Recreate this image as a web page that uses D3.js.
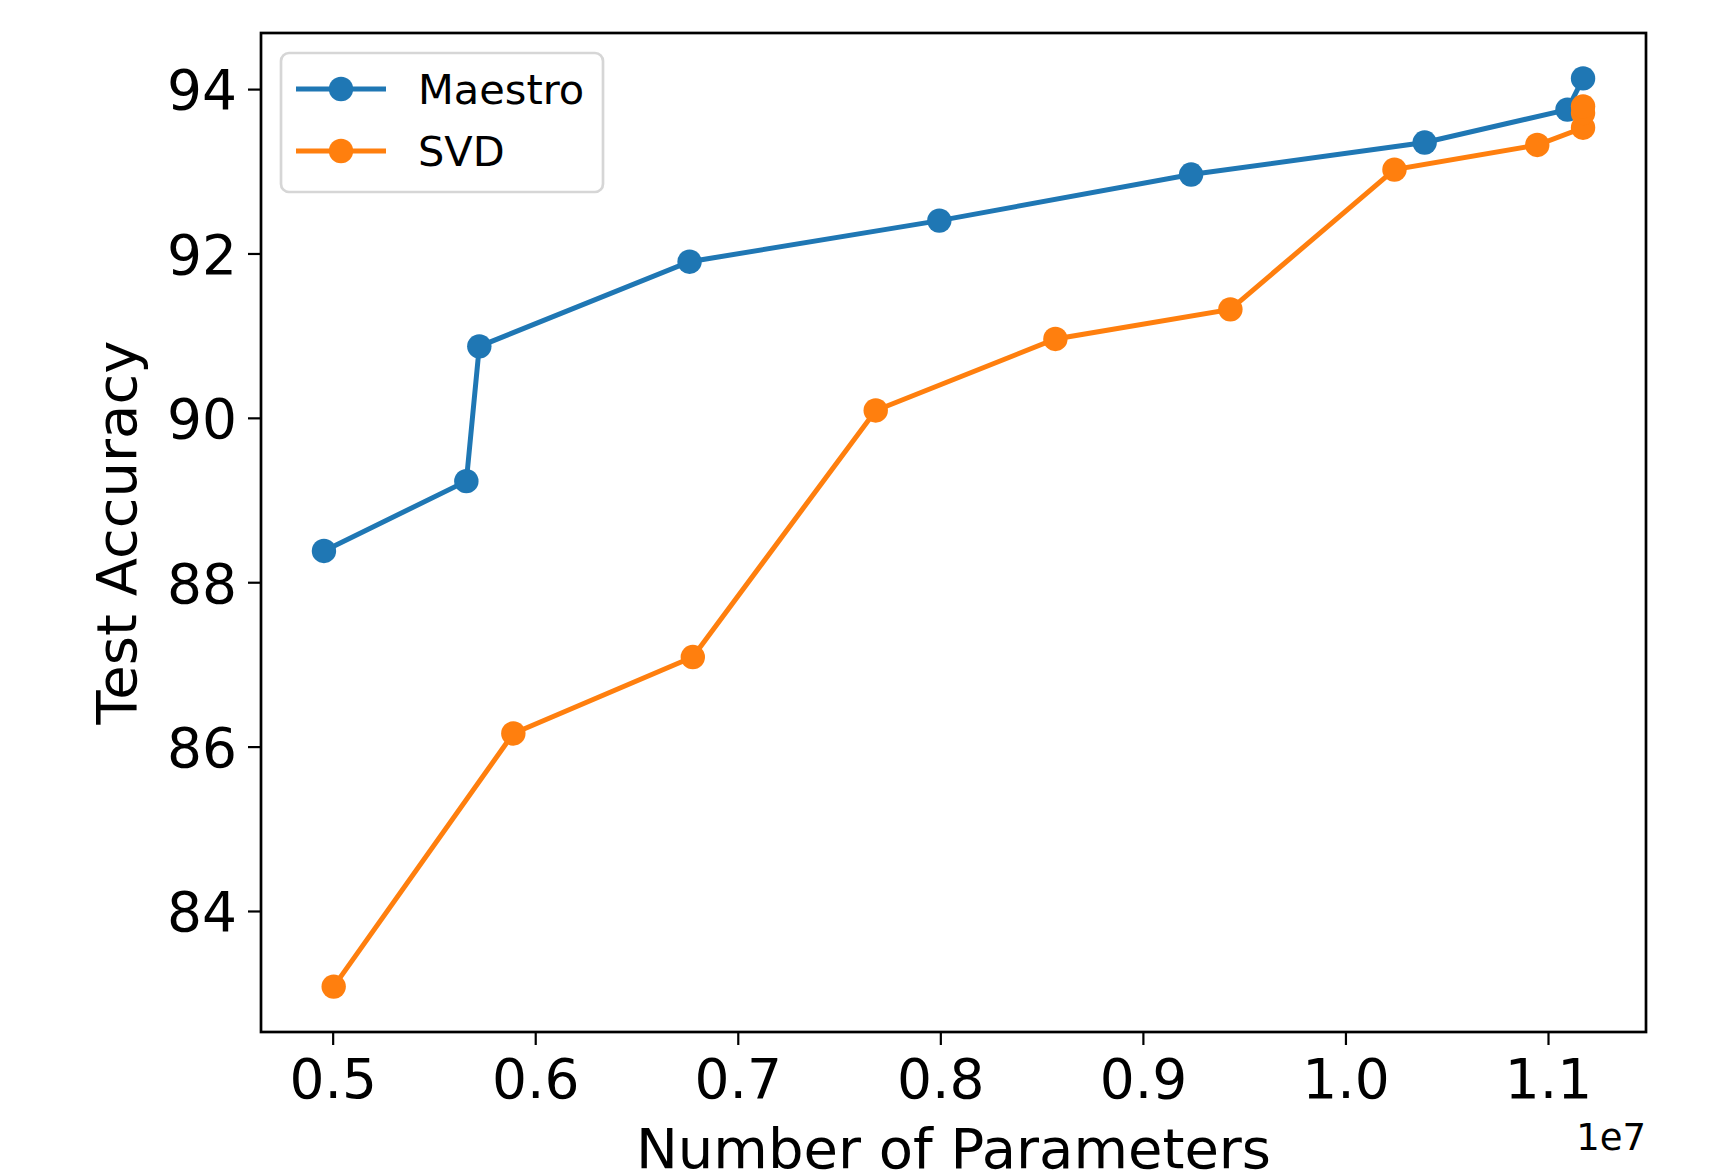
<!DOCTYPE html>
<html>
<head>
<meta charset="utf-8">
<script src="https://cdn.jsdelivr.net/npm/d3@7"></script>
<style>
  body { margin: 0; background: #fff; }
  svg text { font-family: "DejaVu Sans", sans-serif; fill: #000; }
</style>
</head>
<body>
<div id="chart"></div>
<script>
/** data, x in units of 1e7 parameters **/
var maestroParams = [0.4957, 0.566, 0.5724, 0.6762, 0.7995, 0.9238, 1.0391, 1.1096, 1.1173];
var maestroAcc    = [88.38, 89.23, 90.87, 91.90, 92.40, 92.96, 93.35, 93.75, 94.13];
var svdParams = [0.5005, 0.5892, 0.6778, 0.7681, 0.8568, 0.9432, 1.0242, 1.0947, 1.1173, 1.1173, 1.1173];
var svdAcc    = [83.08, 86.16, 87.09, 90.09, 90.96, 91.32, 93.02, 93.32, 93.53, 93.71, 93.79];
var seriesNames = ["Maestro", "SVD"];
var seriesColors = ["#1f77b4", "#ff7f0e"];
var xTicks = [0.5, 0.6, 0.7, 0.8, 0.9, 1.0, 1.1];
var yTicks = [84, 86, 88, 90, 92, 94];

/** layout **/
var svgWidth = 1717,
    svgHeight = 1175,
    plotLeft = 261,
    plotRight = 1646,
    plotTop = 33,
    plotBottom = 1032;

var svg = d3.select("#chart").append("svg")
    .attr("width", svgWidth)
    .attr("height", svgHeight);

// matplotlib style 5% margins around the data
function padded(vals) {
    var lo = d3.min(vals), hi = d3.max(vals), m = (hi - lo) * 0.05;
    return [lo - m, hi + m];
}

var x = d3.scaleLinear()
    .domain(padded(maestroParams.concat(svdParams)))
    .range([plotLeft, plotRight]);

var y = d3.scaleLinear()
    .domain(padded(maestroAcc.concat(svdAcc)))
    .range([plotBottom, plotTop]);

var series = [
    { name: seriesNames[0], color: seriesColors[0],
      pts: maestroParams.map(function(d, i) { return [d, maestroAcc[i]]; }) },
    { name: seriesNames[1], color: seriesColors[1],
      pts: svdParams.map(function(d, i) { return [d, svdAcc[i]]; }) }
];

// axes
var xAxis = svg.append("g")
    .attr("transform", "translate(0," + plotBottom + ")")
    .call(d3.axisBottom(x).tickValues(xTicks).tickFormat(d3.format(".1f"))
        .tickSize(13).tickPadding(14));

var yAxis = svg.append("g")
    .attr("transform", "translate(" + plotLeft + ",0)")
    .call(d3.axisLeft(y).tickValues(yTicks).tickFormat(d3.format("d"))
        .tickSize(13).tickPadding(11));

[xAxis, yAxis].forEach(function(g) {
    g.select(".domain").remove();
    g.selectAll(".tick line").attr("stroke", "#000").attr("stroke-width", 2.2);
    g.selectAll(".tick text").style("font-size", "55px").attr("fill", "#000");
});
xAxis.selectAll(".tick text").attr("dy", "0.71em");
yAxis.selectAll(".tick text").attr("dy", "0.36em");

// lines and markers
var line = d3.line()
    .x(function(d) { return x(d[0]); })
    .y(function(d) { return y(d[1]); });

series.forEach(function(s) {
    svg.append("path")
        .datum(s.pts)
        .attr("d", line)
        .attr("fill", "none")
        .attr("stroke", s.color)
        .attr("stroke-width", 5);

    svg.selectAll(".pt-" + s.name)
        .data(s.pts)
        .enter().append("circle")
        .attr("class", "pt-" + s.name)
        .attr("cx", function(d) { return x(d[0]); })
        .attr("cy", function(d) { return y(d[1]); })
        .attr("r", 12.2)
        .attr("fill", s.color);
});

// frame
svg.append("rect")
    .attr("x", plotLeft)
    .attr("y", plotTop)
    .attr("width", plotRight - plotLeft)
    .attr("height", plotBottom - plotTop)
    .attr("fill", "none")
    .attr("stroke", "#000")
    .attr("stroke-width", 2.7);

// labels
svg.append("text")
    .attr("x", (plotLeft + plotRight) / 2)
    .attr("y", 1168)
    .attr("text-anchor", "middle")
    .style("font-size", "56px")
    .text("Number of Parameters");

svg.append("text")
    .attr("transform", "translate(136," + (plotTop + plotBottom) / 2 + ") rotate(-90)")
    .attr("text-anchor", "middle")
    .style("font-size", "56px")
    .text("Test Accuracy");

svg.append("text")
    .attr("x", plotRight)
    .attr("y", 1150)
    .attr("text-anchor", "end")
    .style("font-size", "37px")
    .text("1e7");

// legend
var legend = svg.append("g");
legend.append("rect")
    .attr("x", 281)
    .attr("y", 53)
    .attr("width", 322)
    .attr("height", 139)
    .attr("rx", 8)
    .attr("fill", "#fff")
    .attr("fill-opacity", 0.8)
    .attr("stroke", "#d6d6d6")
    .attr("stroke-width", 2.7);

series.forEach(function(s, i) {
    var ly = 89 + i * 62;
    legend.append("line")
        .attr("x1", 296).attr("x2", 386)
        .attr("y1", ly).attr("y2", ly)
        .attr("stroke", s.color)
        .attr("stroke-width", 5);
    legend.append("circle")
        .attr("cx", 341).attr("cy", ly).attr("r", 12.2)
        .attr("fill", s.color);
    legend.append("text")
        .attr("x", 418)
        .attr("y", ly)
        .attr("dy", "0.36em")
        .style("font-size", "41.5px")
        .text(s.name);
});
</script>
</body>
</html>
